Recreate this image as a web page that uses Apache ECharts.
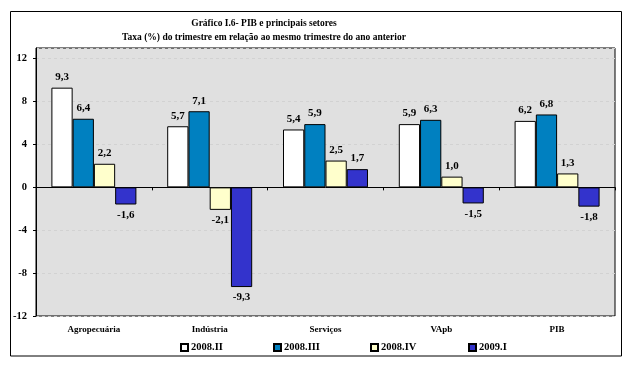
<!DOCTYPE html>
<html><head><meta charset="utf-8">
<script src="https://cdn.jsdelivr.net/npm/echarts@6/dist/echarts.min.js"></script>
<style>html,body{margin:0;padding:0;background:#fff}#c{width:634px;height:366px}</style>
</head><body><div id="c"></div>
<script>
var categories = ['Agropecuária', 'Indústria', 'Serviços', 'VApb', 'PIB'];
var seriesNames = ['2008.II', '2008.III', '2008.IV', '2009.I'];
var s2008II = [9.3, 5.7, 5.4, 5.9, 6.2];
var s2008III = [6.4, 7.1, 5.9, 6.3, 6.8];
var s2008IV = [2.2, -2.1, 2.5, 1.0, 1.3];
var s2009I = [-1.6, -9.3, 1.7, -1.5, -1.8];
var yTicks = [-12, -8, -4, 0, 4, 8, 12];

var values = [s2008II, s2008III, s2008IV, s2009I];
var colors = ['#ffffff', '#0080c0', '#ffffcc', '#3333cc'];
var legendLeft = [180, 273, 370, 468];
var serif = '"Liberation Serif", "Times New Roman", serif';

var chart = echarts.init(document.getElementById('c'), null, {renderer: 'canvas'});
var series = values.map(function (arr, i) {
  return {
    name: seriesNames[i],
    type: 'bar',
    barGap: '0%',
    barCategoryGap: '26.6%',
    itemStyle: {color: colors[i], borderColor: '#000', borderWidth: 1},
    label: {
      show: true, color: '#000', fontFamily: serif, fontWeight: 'bold', fontSize: 11,
      distance: 5,
      formatter: function (p) { return p.value.toFixed(1).replace('.', ','); }
    },
    data: arr.map(function (v) {
      return {value: v, label: {position: v < 0 ? 'bottom' : 'top'}};
    }),
    silent: true,
    animation: false
  };
});

chart.setOption({
  animation: false,
  title: {
    text: 'Gráfico I.6- PIB e principais setores\nTaxa (%) do trimestre em relação ao mesmo trimestre do ano anterior',
    left: 264, top: 17, textAlign: 'center', padding: 0,
    textStyle: {fontFamily: serif, fontWeight: 'bold', fontSize: 9.5, lineHeight: 13.5, color: '#000'}
  },
  legend: legendLeft.map(function (x, i) {
    return {
      data: [seriesNames[i]], left: x, top: 342, padding: 0,
      icon: 'rect', itemWidth: 7, itemHeight: 7, itemGap: 0,
      selectedMode: false,
      textStyle: {fontFamily: serif, fontWeight: 'bold', fontSize: 10.5, color: '#000', padding: [0, 0, 0, -2]}
    };
  }),
  grid: {left: 36, right: 19, top: 48, bottom: 50, show: true, backgroundColor: '#e0e0e0', borderColor: '#000', borderWidth: 1},
  xAxis: [{
    type: 'category', data: categories, position: 'bottom',
    axisLine: {onZero: true, lineStyle: {color: '#000', width: 1}},
    axisTick: {show: true, length: 3, lineStyle: {color: '#000'}},
    axisLabel: {show: false}
  }, {
    type: 'category', data: categories, position: 'bottom',
    axisLine: {show: false, onZero: false}, axisTick: {show: false},
    axisLabel: {show: true, margin: 9, color: '#000', fontFamily: serif, fontWeight: 'bold', fontSize: 9}
  }],
  yAxis: {
    type: 'value', min: yTicks[0], max: 13, interval: 4,
    axisLine: {show: true, lineStyle: {color: '#000'}},
    axisTick: {show: true, length: 3, lineStyle: {color: '#000'}},
    axisLabel: {color: '#000', fontFamily: serif, fontWeight: 'bold', fontSize: 10.5, margin: 9, showMaxLabel: false,
      formatter: function (v) { return yTicks.indexOf(v) >= 0 ? String(v) : ''; }},
    splitLine: {show: true, lineStyle: {color: '#d2d2d2', type: [3, 3], width: 1}}
  },
  graphic: [{
    type: 'rect', silent: true, z: 100,
    shape: {x: 10.5, y: 11.5, width: 611, height: 344.5},
    style: {fill: 'none', stroke: '#000', lineWidth: 1}
  }],
  series: series
});
</script></body></html>
